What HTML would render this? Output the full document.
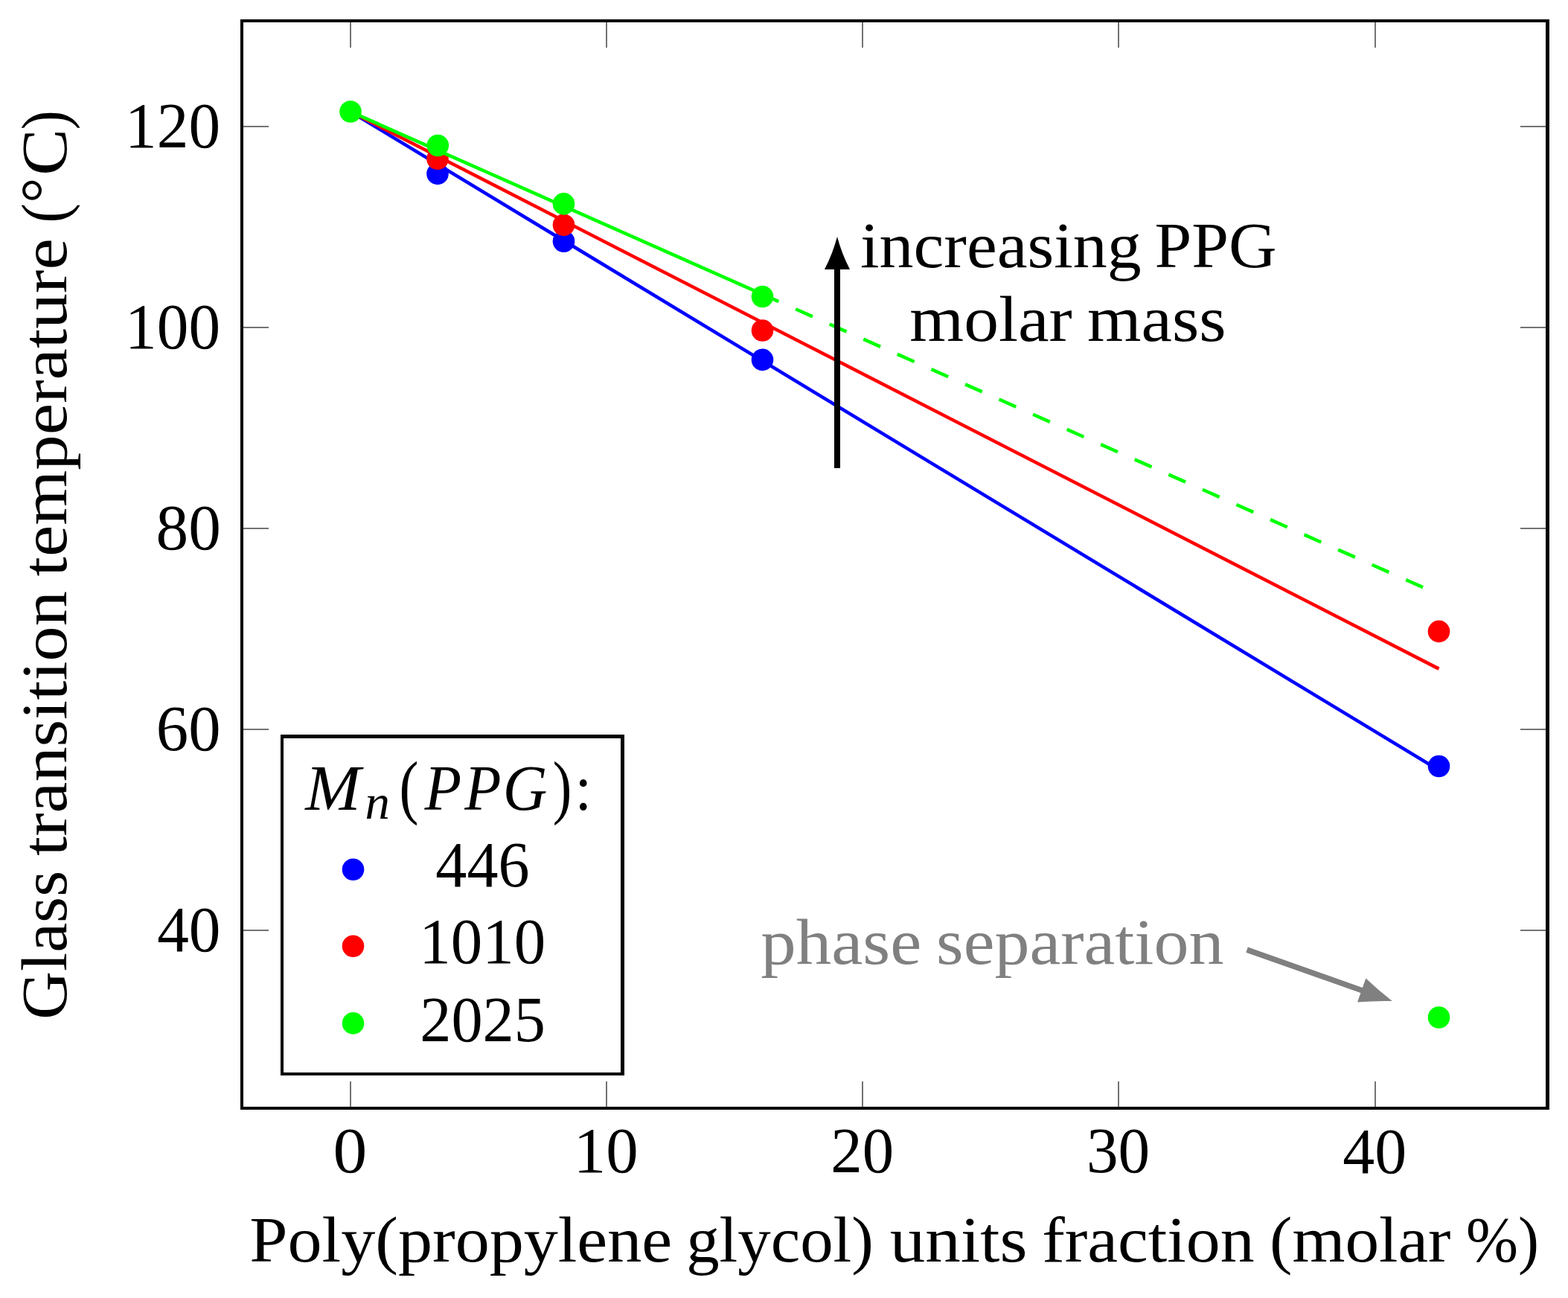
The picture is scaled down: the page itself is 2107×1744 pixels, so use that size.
<!DOCTYPE html><html><head><meta charset="utf-8"><title>Glass transition temperature vs PPG fraction</title>
<style>html,body{margin:0;padding:0;background:#fff;}svg{display:block;}</style></head><body>
<svg width="2107" height="1744" viewBox="0 0 2107 1744">
<rect x="0" y="0" width="2107" height="1744" fill="#fff"/>
<g id="shapes">
<path d="M471.00 30V64M471.00 1453V1487M815.00 30V64M815.00 1453V1487M1159.00 30V64M1159.00 1453V1487M1503.00 30V64M1503.00 1453V1487M1848.00 30V64M1848.00 1453V1487M327 170.00H361M2043 170.00H2077M327 440.00H361M2043 440.00H2077M327 710.00H361M2043 710.00H2077M327 980.00H361M2043 980.00H2077M327 1250.00H361M2043 1250.00H2077" stroke="#737373" stroke-width="2" fill="none" shape-rendering="crispEdges"/>
<path d="M471 150L1933.5 1034.7" stroke="#00f" stroke-width="4.55" fill="none"/>
<circle cx="588" cy="233.4" r="14.8" fill="#00f"/>
<circle cx="757.5" cy="324.3" r="14.8" fill="#00f"/>
<circle cx="1024.5" cy="483.4" r="14.8" fill="#00f"/>
<circle cx="1933.5" cy="1029.5" r="14.8" fill="#00f"/>
<path d="M471 150L1933.5 898.6" stroke="#f00" stroke-width="4.55" fill="none"/>
<circle cx="588" cy="213.4" r="14.8" fill="#f00"/>
<circle cx="757.5" cy="302.3" r="14.8" fill="#f00"/>
<circle cx="1024.5" cy="444" r="14.8" fill="#f00"/>
<circle cx="1933.5" cy="848.4" r="14.8" fill="#f00"/>
<path d="M471 150L1024.5 395.48" stroke="#0f0" stroke-width="4.55" fill="none"/>
<path d="M1024.5 395.48L1933.5 798.62" stroke="#0f0" stroke-width="4.55" fill="none" stroke-dasharray="24.92 24.92" stroke-dashoffset="1.0"/>
<circle cx="471" cy="150" r="14.8" fill="#0f0"/>
<circle cx="588.3" cy="195.5" r="14.8" fill="#0f0"/>
<circle cx="757.5" cy="273.9" r="14.8" fill="#0f0"/>
<circle cx="1024.5" cy="398.5" r="14.8" fill="#0f0"/>
<circle cx="1933.5" cy="1367" r="14.8" fill="#0f0"/>
<rect x="1121" y="360" width="8" height="269" fill="#000"/>
<path d="M1125.00 318.00Q1118.93 340.94 1108.00 362.00L1142.00 362.00Q1131.07 340.94 1125.00 318.00Z" fill="#000"/>
<path d="M1675.6 1276.1L1831.57 1331.18" stroke="#808080" stroke-width="7.5" fill="none"/>
<path d="M1870.70 1345.00Q1852.22 1330.70 1835.31 1314.58L1824.05 1346.45Q1847.34 1344.53 1870.70 1345.00Z" fill="#808080"/>
<g fill="#000" shape-rendering="crispEdges">
<rect x="323" y="26" width="4" height="1465"/>
<rect x="323" y="26" width="1759" height="4"/>
<rect x="2077" y="26" width="5" height="1465"/>
<rect x="323" y="1487" width="1759" height="4"/>
</g>
<rect x="379" y="989" width="457" height="454" fill="#fff"/>
<g fill="#000" shape-rendering="crispEdges">
<rect x="377" y="987" width="4" height="458"/>
<rect x="377" y="987" width="462" height="5"/>
<rect x="834" y="987" width="5" height="458"/>
<rect x="377" y="1441" width="462" height="4"/>
</g>
<circle cx="474.5" cy="1168.2" r="14.8" fill="#00f"/>
<circle cx="474.5" cy="1271.2" r="14.8" fill="#f00"/>
<circle cx="474.5" cy="1374.9" r="14.8" fill="#0f0"/>
</g>
<g id="texts">
<text id="y120" x="168.10" y="197.50" textLength="128.05" lengthAdjust="spacingAndGlyphs" style="font-family:'Liberation Serif', serif;font-size:86.0px;fill:#000">120</text>
<text id="y100" x="168.10" y="467.50" textLength="128.05" lengthAdjust="spacingAndGlyphs" style="font-family:'Liberation Serif', serif;font-size:86.0px;fill:#000">100</text>
<text id="y80" x="209.47" y="737.50" textLength="87.35" lengthAdjust="spacingAndGlyphs" style="font-family:'Liberation Serif', serif;font-size:86.0px;fill:#000">80</text>
<text id="y60" x="209.77" y="1007.50" textLength="86.73" lengthAdjust="spacingAndGlyphs" style="font-family:'Liberation Serif', serif;font-size:86.0px;fill:#000">60</text>
<text id="y40" x="211.13" y="1277.50" textLength="85.32" lengthAdjust="spacingAndGlyphs" style="font-family:'Liberation Serif', serif;font-size:86.0px;fill:#000">40</text>
<text id="x0" x="447.41" y="1575.30" textLength="45.77" lengthAdjust="spacingAndGlyphs" style="font-family:'Liberation Serif', serif;font-size:86.0px;fill:#000">0</text>
<text id="x10" x="770.77" y="1575.30" textLength="86.84" lengthAdjust="spacingAndGlyphs" style="font-family:'Liberation Serif', serif;font-size:86.0px;fill:#000">10</text>
<text id="x20" x="1116.27" y="1575.30" textLength="84.86" lengthAdjust="spacingAndGlyphs" style="font-family:'Liberation Serif', serif;font-size:86.0px;fill:#000">20</text>
<text id="x30" x="1459.92" y="1575.30" textLength="85.33" lengthAdjust="spacingAndGlyphs" style="font-family:'Liberation Serif', serif;font-size:86.0px;fill:#000">30</text>
<text id="x40" x="1804.32" y="1575.80" textLength="85.95" lengthAdjust="spacingAndGlyphs" style="font-family:'Liberation Serif', serif;font-size:86.0px;fill:#000">40</text>
<text id="xl1" x="335.35" y="1694.60" textLength="567.85" lengthAdjust="spacingAndGlyphs" style="font-family:'Liberation Serif', serif;font-size:86.0px;fill:#000">Poly(propylene</text>
<text id="xl2" x="922.18" y="1694.60" textLength="251.72" lengthAdjust="spacingAndGlyphs" style="font-family:'Liberation Serif', serif;font-size:86.0px;fill:#000">glycol)</text>
<text id="xl3" x="1195.75" y="1694.60" textLength="184.68" lengthAdjust="spacingAndGlyphs" style="font-family:'Liberation Serif', serif;font-size:86.0px;fill:#000">units</text>
<text id="xl4" x="1400.18" y="1694.60" textLength="285.51" lengthAdjust="spacingAndGlyphs" style="font-family:'Liberation Serif', serif;font-size:86.0px;fill:#000">fraction</text>
<text id="xl5" x="1705.99" y="1694.60" textLength="243.42" lengthAdjust="spacingAndGlyphs" style="font-family:'Liberation Serif', serif;font-size:86.0px;fill:#000">(molar</text>
<text id="xl6" x="1970.03" y="1694.60" textLength="97.96" lengthAdjust="spacingAndGlyphs" style="font-family:'Liberation Serif', serif;font-size:86.0px;fill:#000">%)</text>
<text id="yl1" transform="translate(89.40,1366.30) rotate(-90)" x="-3.70" y="0" textLength="200.25" lengthAdjust="spacingAndGlyphs" style="font-family:'Liberation Serif', serif;font-size:86.0px;fill:#000">Glass</text>
<text id="yl2" transform="translate(89.40,1149.00) rotate(-90)" x="-0.92" y="0" textLength="355.64" lengthAdjust="spacingAndGlyphs" style="font-family:'Liberation Serif', serif;font-size:86.0px;fill:#000">transition</text>
<text id="yl3" transform="translate(89.40,773.50) rotate(-90)" x="-0.93" y="0" textLength="454.13" lengthAdjust="spacingAndGlyphs" style="font-family:'Liberation Serif', serif;font-size:86.0px;fill:#000">temperature</text>
<text id="yl4" transform="translate(89.40,296.00) rotate(-90)" x="-3.47" y="0" textLength="26.32" lengthAdjust="spacingAndGlyphs" style="font-family:'Liberation Serif', serif;font-size:86.0px;fill:#000">(</text>
<text id="yl5" transform="translate(87.20,268.80) rotate(-90)" x="-4.07" y="0" textLength="34.03" lengthAdjust="spacingAndGlyphs" style="font-family:'Liberation Serif', serif;font-size:84.2px;fill:#000">°</text>
<text id="yl6" transform="translate(89.40,231.90) rotate(-90)" x="-3.85" y="0" textLength="62.63" lengthAdjust="spacingAndGlyphs" style="font-family:'Liberation Serif', serif;font-size:86.0px;fill:#000">C</text>
<text id="yl7" transform="translate(89.40,171.70) rotate(-90)" x="-2.50" y="0" textLength="25.80" lengthAdjust="spacingAndGlyphs" style="font-family:'Liberation Serif', serif;font-size:86.0px;fill:#000">)</text>
<text id="inc1" x="1156.07" y="358.80" textLength="377.68" lengthAdjust="spacingAndGlyphs" style="font-family:'Liberation Serif', serif;font-size:86.0px;fill:#000">increasing</text>
<text id="inc2" x="1551.42" y="358.80" textLength="164.07" lengthAdjust="spacingAndGlyphs" style="font-family:'Liberation Serif', serif;font-size:86.0px;fill:#000">PPG</text>
<text id="mol1" x="1222.33" y="458.00" textLength="218.49" lengthAdjust="spacingAndGlyphs" style="font-family:'Liberation Serif', serif;font-size:86.0px;fill:#000">molar</text>
<text id="mol2" x="1461.04" y="458.00" textLength="186.43" lengthAdjust="spacingAndGlyphs" style="font-family:'Liberation Serif', serif;font-size:86.0px;fill:#000">mass</text>
<text id="ph1" x="1022.37" y="1295.20" textLength="215.92" lengthAdjust="spacingAndGlyphs" style="font-family:'Liberation Serif', serif;font-size:86.0px;fill:#808080">phase</text>
<text id="ph2" x="1258.14" y="1295.20" textLength="386.28" lengthAdjust="spacingAndGlyphs" style="font-family:'Liberation Serif', serif;font-size:86.0px;fill:#808080">separation</text>
<text id="legM" x="410.15" y="1087.80" textLength="74.36" lengthAdjust="spacingAndGlyphs" style="font-family:'Liberation Serif', serif;font-size:86.0px;font-style:italic;fill:#000">M</text>
<text id="legn" x="490.42" y="1100.40" textLength="33.35" lengthAdjust="spacingAndGlyphs" style="font-family:'Liberation Serif', serif;font-size:66px;font-style:italic;fill:#000">n</text>
<text id="leglp" x="536.58" y="1088.80" textLength="25.93" lengthAdjust="spacingAndGlyphs" style="font-family:'Liberation Serif', serif;font-size:95px;fill:#000">(</text>
<text id="legP1" x="570.44" y="1087.80" textLength="49.63" lengthAdjust="spacingAndGlyphs" style="font-family:'Liberation Serif', serif;font-size:86.0px;font-style:italic;fill:#000">P</text>
<text id="legP2" x="624.23" y="1087.80" textLength="49.21" lengthAdjust="spacingAndGlyphs" style="font-family:'Liberation Serif', serif;font-size:86.0px;font-style:italic;fill:#000">P</text>
<text id="legG" x="675.84" y="1087.80" textLength="59.63" lengthAdjust="spacingAndGlyphs" style="font-family:'Liberation Serif', serif;font-size:86.0px;font-style:italic;fill:#000">G</text>
<text id="legrp" x="742.63" y="1088.80" textLength="25.54" lengthAdjust="spacingAndGlyphs" style="font-family:'Liberation Serif', serif;font-size:95px;fill:#000">)</text>
<text id="legc" x="772.55" y="1087.80" textLength="22.67" lengthAdjust="spacingAndGlyphs" style="font-family:'Liberation Serif', serif;font-size:86.0px;fill:#000">:</text>
<text id="l446" x="585.36" y="1191.00" textLength="126.15" lengthAdjust="spacingAndGlyphs" style="font-family:'Liberation Serif', serif;font-size:86.0px;fill:#000">446</text>
<text id="l1010" x="563.33" y="1294.20" textLength="170.01" lengthAdjust="spacingAndGlyphs" style="font-family:'Liberation Serif', serif;font-size:86.0px;fill:#000">1010</text>
<text id="l2025" x="564.30" y="1398.50" textLength="168.60" lengthAdjust="spacingAndGlyphs" style="font-family:'Liberation Serif', serif;font-size:86.0px;fill:#000">2025</text>
</g>
</svg></body></html>
